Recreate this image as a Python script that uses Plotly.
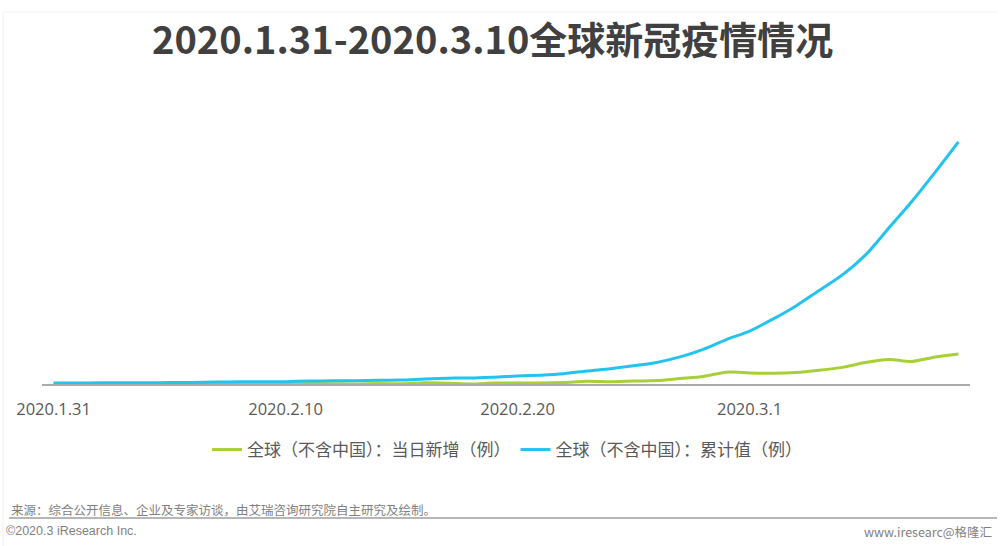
import plotly.graph_objects as go
import pandas as pd

# ---- data ----
dates = pd.date_range("2020-01-31", "2020-03-10", freq="D").strftime("%Y-%m-%d").tolist()

# 全球（不含中国）：累计值（例）
cumulative = [132, 146, 153, 159, 176, 191, 216, 270, 288, 307,
              319, 395, 441, 447, 505, 526, 683, 794, 804, 924,
              1073, 1200, 1402, 1769, 2069, 2459, 2918, 3664, 4691, 6009,
              7169, 8774, 10566, 12668, 14768, 17481, 21110, 24727, 28674, 32778]

# 全球（不含中国）：当日新增（例）
daily_new = [20, 14, 7, 6, 17, 15, 25, 54, 18, 19,
             12, 76, 46, 6, 58, 21, 157, 111, 10, 120,
             149, 127, 202, 367, 300, 390, 459, 746, 1027, 1600,
             1500, 1450, 1550, 1850, 2250, 2900, 3300, 3050, 3650, 4050]

tick_vals = ["2020-01-31", "2020-02-10", "2020-02-20", "2020-03-01"]
tick_text = ["2020.1.31", "2020.2.10", "2020.2.20", "2020.3.1"]

name_new = "全球（不含中国）：当日新增（例）"
name_cum = "全球（不含中国）：累计值（例）"
title_text = "2020.1.31-2020.3.10全球新冠疫情情况"

GREEN = "#a8cf38"
CYAN = "#22c4ee"

# plot-area pixel geometry (for placing decorations in paper coords)
L, R, T, B = 42, 970, 118, 384
W, H = R - L, B - T

def px(x):
    return (x - L) / W

def py(y):
    return (B - y) / H

fig = go.Figure()
fig.add_trace(go.Scatter(x=dates, y=daily_new, name=name_new, mode="lines",
                         line=dict(color=GREEN, width=3, shape="spline", smoothing=0.8)))
fig.add_trace(go.Scatter(x=dates, y=cumulative, name=name_cum, mode="lines",
                         line=dict(color=CYAN, width=3, shape="spline", smoothing=0.8)))

font_family = "Noto Sans CJK SC, Open Sans, sans-serif"

fig.update_layout(
    width=1000, height=546,
    margin=dict(l=L, r=1000 - R, t=T, b=546 - B),
    paper_bgcolor="white", plot_bgcolor="white",
    font=dict(family=font_family, color="#595959", size=14),
    showlegend=True,
    legend=dict(orientation="h", x=px(507), xanchor="center", y=py(450), yanchor="middle",
                font=dict(size=17, color="#595959"), bgcolor="rgba(0,0,0,0)",
                itemwidth=30, tracegroupgap=0),
    xaxis=dict(type="date", range=["2020-01-30 12:00", "2020-03-10 12:00"],
               tickvals=tick_vals, ticktext=tick_text,
               showgrid=False, zeroline=False,
               showline=True, linecolor="#ababab", linewidth=1.5,
               ticks="outside", ticklen=9, tickcolor="rgba(0,0,0,0)",
               tickfont=dict(size=16.5, color="#595959", family="Open Sans, Noto Sans, sans-serif"),
               layer="below traces", fixedrange=True),
    yaxis=dict(range=[0, 36000], visible=False, showgrid=False, zeroline=False, fixedrange=True),
    annotations=[
        dict(text="<b>" + title_text + "</b>", xref="paper", yref="paper",
             x=px(492), y=py(37), xanchor="center", yanchor="middle", showarrow=False,
             font=dict(size=38, color="#404040", family=font_family)),
        dict(text="来源：综合公开信息、企业及专家访谈，由艾瑞咨询研究院自主研究及绘制。",
             xref="paper", yref="paper", x=px(9), y=py(509), xanchor="left", yanchor="middle",
             showarrow=False, font=dict(size=12.5, color="#7f7f7f", family=font_family)),
        dict(text="©2020.3 iResearch Inc.", xref="paper", yref="paper", x=px(4), y=py(531),
             xanchor="left", yanchor="middle", showarrow=False,
             font=dict(size=12.5, color="#7f7f7f", family="Liberation Sans Narrow, Liberation Sans, sans-serif")),
        dict(text="www.iresearc@格隆汇", xref="paper", yref="paper", x=px(994), y=py(531),
             xanchor="right", yanchor="middle", showarrow=False,
             font=dict(size=12.5, color="#7f7f7f", family="Liberation Sans Narrow, Noto Sans CJK SC, sans-serif")),
    ],
    shapes=[
        dict(type="line", xref="paper", yref="paper", x0=px(9), x1=px(997), y0=py(518), y1=py(518),
             line=dict(color="#9e9e9e", width=1.5)),
        dict(type="line", xref="paper", yref="paper", x0=px(3), x1=px(997), y0=py(12), y1=py(12),
             line=dict(color="#f0f0f0", width=1)),
        dict(type="line", xref="paper", yref="paper", x0=px(3), x1=px(3), y0=py(12), y1=py(546),
             line=dict(color="#f0f0f0", width=1)),
    ],
)

fig.write_html("out.html", config={"displayModeBar": False},
               post_script="document.body.style.margin='0';document.body.style.padding='0';")
